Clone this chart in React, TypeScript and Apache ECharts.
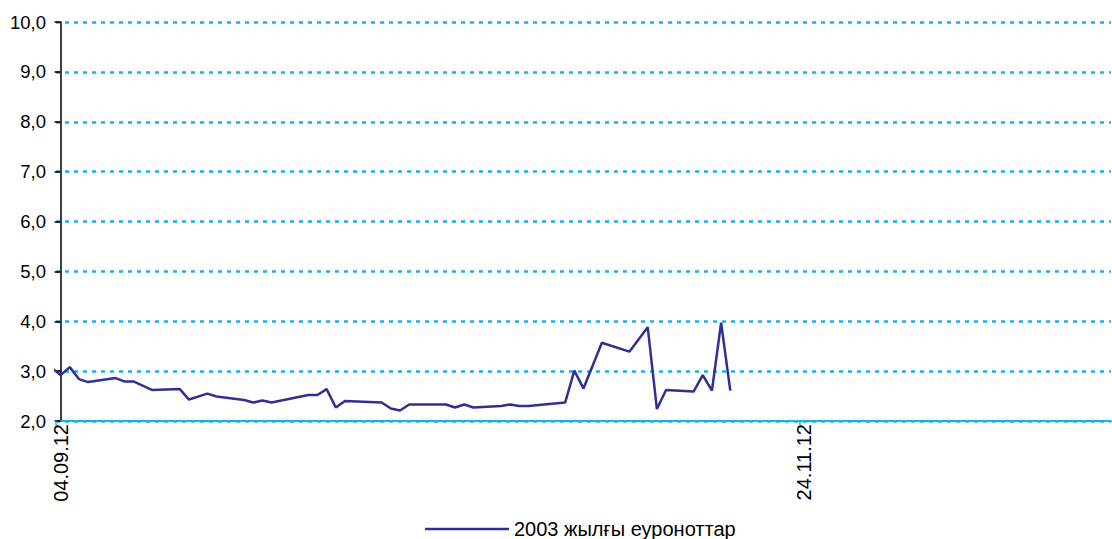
import React, { useEffect, useRef } from "react";
import * as echarts from "echarts";

const seriesName = "2003 жылғы еуроноттар";
const startDate = "04.09.12";
const dates = [
  "03.09.12", "04.09.12", "05.09.12", "06.09.12", "07.09.12", "10.09.12", "11.09.12", "12.09.12",
  "14.09.12", "17.09.12", "18.09.12", "20.09.12", "21.09.12", "24.09.12", "25.09.12", "26.09.12",
  "27.09.12", "01.10.12", "02.10.12", "03.10.12", "04.10.12", "05.10.12", "09.10.12", "10.10.12",
  "11.10.12", "12.10.12", "16.10.12", "17.10.12", "18.10.12", "19.10.12", "22.10.12", "23.10.12",
  "24.10.12", "25.10.12", "29.10.12", "30.10.12", "31.10.12", "02.11.12", "05.11.12", "07.11.12",
  "08.11.12", "09.11.12", "12.11.12", "13.11.12", "14.11.12", "15.11.12", "16.11.12",
];
const values = [
  3.07, 2.92, 3.08, 2.84, 2.78, 2.86, 2.79, 2.79,
  2.62, 2.64, 2.43, 2.55, 2.49, 2.42, 2.37, 2.41,
  2.37, 2.52, 2.52, 2.64, 2.27, 2.40, 2.37, 2.25,
  2.21, 2.33, 2.33, 2.27, 2.33, 2.27, 2.30, 2.33,
  2.30, 2.30, 2.37, 3.01, 2.65, 3.57, 3.39, 3.88,
  2.24, 2.62, 2.59, 2.92, 2.61, 3.97, 2.61,
];
const xLabels = ["04.09.12", "24.11.12"];
const yTicks = [2, 3, 4, 5, 6, 7, 8, 9, 10];

const toUTC = (s: string) => {
  const [d, m, y] = s.split(".").map(Number);
  return Date.UTC(2000 + y, m - 1, d);
};
const dayIndex = (s: string) => Math.round((toUTC(s) - toUTC(startDate)) / 86400000);

const FONT = "'Liberation Sans', Arial, sans-serif";

export default function App() {
  const ref = useRef<HTMLDivElement>(null);
  useEffect(() => {
    if (!ref.current) return;
    const chart = echarts.init(ref.current, null, { renderer: "svg" });
    const labelDays = xLabels.map(dayIndex);
    const labelMap: Record<number, string> = {};
    labelDays.forEach((d, i) => (labelMap[d] = xLabels[i]));
    chart.setOption({
      animation: false,
      backgroundColor: "#ffffff",
      textStyle: { fontFamily: FONT },
      grid: { left: 56, right: 1, top: 22, bottom: 118, containLabel: false },
      legend: {
        left: 425,
        top: 519,
        padding: 0,
        itemWidth: 84,
        itemHeight: 18,
        itemGap: 8,
        textStyle: { fontFamily: FONT, fontSize: 20, color: "#000" },
        data: [{ name: seriesName, icon: "path://M0,0 L84,0 L84,2.5 L0,2.5 Z" }],
      },
      xAxis: {
        type: "value",
        min: -0.5,
        max: 114.5,
        splitLine: { show: false },
        axisLine: { show: true, lineStyle: { color: "#1ab0ee", width: 2 } },
        axisTick: {
          show: true,
          customValues: [-0.5, labelDays[1] - 0.4],
          length: 4,
          lineStyle: { color: "#1ab0ee", width: 1.5 },
        },
        axisLabel: {
          customValues: labelDays,
          rotate: 90,
          margin: 3,
          fontFamily: FONT,
          fontSize: 20,
          color: "#000",
          formatter: (v: number) => labelMap[Math.round(v)] ?? "",
        },
      },
      yAxis: {
        type: "value",
        min: yTicks[0],
        max: yTicks[yTicks.length - 1],
        interval: 1,
        axisLine: { show: true, lineStyle: { color: "#000", width: 1.5 } },
        axisTick: { show: true, length: 6, lineStyle: { color: "#000", width: 1.5 } },
        axisLabel: {
          margin: 10,
          fontFamily: FONT,
          fontSize: 18.5,
          color: "#000",
          formatter: (v: number) => v.toFixed(1).replace(".", ","),
        },
        splitLine: {
          show: true,
          lineStyle: { color: "#1ab0ee", width: 2.5, type: [4, 5] },
        },
      },
      series: [
        {
          name: seriesName,
          type: "line",
          symbol: "none",
          clip: true,
          lineStyle: { color: "#2e3192", width: 2.5 },
          itemStyle: { color: "#2e3192" },
          data: dates.map((d, i) => [dayIndex(d), values[i]]),
        },
      ],
    });
    return () => chart.dispose();
  }, []);
  return (
    <div
      ref={ref}
      style={{ position: "fixed", left: 0, top: 0, width: 1112, height: 539, background: "#fff" }}
    />
  );
}
